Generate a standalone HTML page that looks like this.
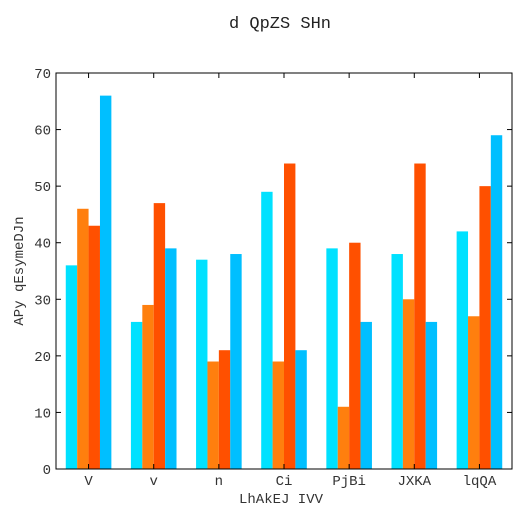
<!DOCTYPE html>
<html><head><meta charset="utf-8"><style>
body{margin:0;background:#fff}
svg{display:block;font-family:"Liberation Mono","DejaVu Sans Mono",monospace}
</style></head><body>
<svg id="c" width="518" height="518"></svg>
<script>
const categories=["V","v","n","Ci","PjBi","JXKA","lqQA"];
const s1=[36,26,37,49,39,38,42];
const s2=[46,29,19,19,11,30,27];
const s3=[43,47,21,54,40,54,50];
const s4=[66,39,38,21,26,26,59];
const yTicks=[0,10,20,30,40,50,60,70];
const series=[s1,s2,s3,s4];
const colors=["#00e1ff","#ff7f0e","#ff5000","#00bfff"];
const L=56,R=512,T=73,B=469,yMax=70;
const NS="http://www.w3.org/2000/svg";
const svg=document.getElementById('c');
function y(v){return B-(v/yMax)*(B-T);}
const gw=(R-L)/categories.length;
function xc(i){return L+gw*(i+0.5);}
const bw=gw*0.7/4;
function mk(t,a,txt){const e=document.createElementNS(NS,t);for(const k in a)e.setAttribute(k,a[k]);if(txt!==undefined)e.textContent=txt;svg.appendChild(e);return e;}
series.forEach((s,si)=>{s.forEach((v,i)=>{
 const r=mk('rect',{x:xc(i)-2*bw+si*bw,y:y(v),width:bw,height:B-y(v),fill:colors[si]});
 
 
});});
const ax=mk('rect',{x:L,y:T,width:R-L,height:B-T,fill:'none',stroke:'#000','stroke-width':1});


yTicks.forEach(t=>{
 mk('line',{x1:L,x2:L+5,y1:y(t),y2:y(t),stroke:'#000'});
 mk('line',{x1:R,x2:R-5,y1:y(t),y2:y(t),stroke:'#000'});
 const tl=mk('text',{x:L-5,y:y(t)+5,'text-anchor':'end','font-size':14,fill:'#333'},t);
 
 
});
categories.forEach((c,i)=>{
 mk('line',{x1:xc(i),x2:xc(i),y1:B,y2:B-5,stroke:'#000'});
 mk('line',{x1:xc(i),x2:xc(i),y1:T,y2:T+5,stroke:'#000'});
 const tl=mk('text',{x:xc(i),y:B+16,'text-anchor':'middle','font-size':14,fill:'#333'},c);
 
 
});
const tt=mk('text',{x:280,y:28,'text-anchor':'middle','font-size':17,fill:'#222'},'d QpZS SHn');


const xt=mk('text',{x:281,y:503,'text-anchor':'middle','font-size':14,fill:'#333'},'LhAkEJ IVV');


const yt=mk('text',{x:23,y:271,'text-anchor':'middle','font-size':14,fill:'#333',transform:'rotate(-90 23 271)'},'APy qEsymeDJn');


</script>
</body></html>
